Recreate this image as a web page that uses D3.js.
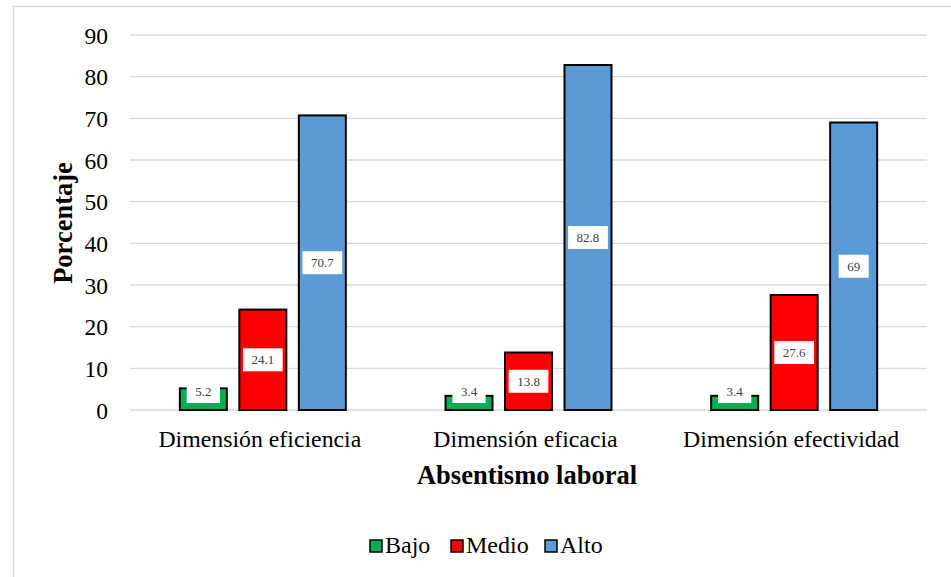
<!DOCTYPE html>
<html>
<head>
<meta charset="utf-8">
<script src="https://cdn.jsdelivr.net/npm/d3@7"></script>
<style>
  html, body { margin: 0; padding: 0; background: #fff; }
  svg { display: block; }
</style>
</head>
<body>
<svg id="chart" width="951" height="577"></svg>
<script>
const categories = ["Dimensión eficiencia", "Dimensión eficacia", "Dimensión efectividad"];
const seriesNames = ["Bajo", "Medio", "Alto"];
const bajo = [5.2, 3.4, 3.4];
const medio = [24.1, 13.8, 27.6];
const alto = [70.7, 82.8, 69];
const yTicks = [0, 10, 20, 30, 40, 50, 60, 70, 80, 90];
const colors = ["#00b050", "#ff0000", "#5b9bd5"];
const yTitle = "Porcentaje";
const xTitle = "Absentismo laboral";

const seriesValues = [bajo, medio, alto];
const FONT = "Liberation Serif";

const svg = d3.select("#chart");
const W = 951, H = 577;
const plotLeft = 130, plotRight = 927, plotTop = 35, plotBottom = 410;

// outer chart border
svg.append("rect").attr("x", 13.5).attr("y", 6.5).attr("width", W + 20).attr("height", H + 20)
  .attr("fill", "#fff").attr("stroke", "#d9d9d9").attr("stroke-width", 1.5);

const y = d3.scaleLinear().domain([0, 90]).range([plotBottom, plotTop]);
const x0 = d3.scaleBand().domain(categories).range([plotLeft, plotRight]).padding(0);
const x1 = d3.scaleBand().domain(seriesNames).range([-83, 83]).paddingInner(0.21).paddingOuter(0);

// gridlines
svg.append("g").selectAll("line").data(yTicks).join("line")
  .attr("x1", plotLeft).attr("x2", plotRight)
  .attr("y1", d => y(d)).attr("y2", d => y(d))
  .attr("stroke", "#d9d9d9").attr("stroke-width", 1.3);

// y axis labels
const yAxis = d3.axisLeft(y).tickValues(yTicks).tickSize(0).tickPadding(0);
const yg = svg.append("g").attr("transform", `translate(108,0)`).call(yAxis);
yg.select(".domain").remove();
yg.selectAll("text").style("font-family", FONT).style("font-size", "23.5px").attr("fill", "#000")
  .attr("dy", "0.34em");

// x axis labels
const xAxis = d3.axisBottom(x0).tickSize(0).tickPadding(0);
const xg = svg.append("g").attr("transform", `translate(-3,${plotBottom})`).call(xAxis);
xg.select(".domain").remove();
xg.selectAll("text").style("font-family", FONT).style("font-size", "23.8px").attr("fill", "#000")
  .attr("y", 36.5).attr("dy", 0);

// bars
const data = [];
categories.forEach((c, i) => {
  seriesNames.forEach((s, j) => {
    data.push({ cat: c, ser: s, val: seriesValues[j][i], color: colors[j] });
  });
});

const barG = svg.append("g");
const bx = d => x0(d.cat) + x0.bandwidth() / 2 + x1(d.ser);
barG.selectAll("rect").data(data).join("rect")
  .attr("x", bx).attr("width", x1.bandwidth())
  .attr("y", d => y(d.val)).attr("height", d => y(0) - y(d.val))
  .attr("fill", d => d.color).attr("stroke", "#000").attr("stroke-width", 2);

// data labels
const lblG = svg.append("g");
data.forEach(d => {
  const cx = bx(d) + x1.bandwidth() / 2;
  const mid = (y(d.val) + y(0)) / 2;
  const cy = Math.min(mid, y(0) - 18.5);
  const g = lblG.append("g");
  const t = g.append("text").attr("x", cx).attr("y", cy).attr("text-anchor", "middle")
    .attr("dy", "0.35em").style("font-family", FONT).style("font-size", "13px")
    .attr("fill", "#404040").text(String(d.val));
  const w = t.node().getComputedTextLength() + 17;
  g.insert("rect", "text").attr("x", cx - w / 2).attr("y", cy - 11.5).attr("width", w).attr("height", 23)
    .attr("fill", "#fff");
});

// axis titles
svg.append("text").attr("x", 527).attr("y", 484).attr("text-anchor", "middle")
  .style("font-family", FONT).style("font-size", "26.5px").style("font-weight", "bold")
  .attr("fill", "#000").text(xTitle);
svg.append("text").attr("transform", "translate(72,223) rotate(-90)").attr("text-anchor", "middle")
  .style("font-family", FONT).style("font-size", "26.5px").style("font-weight", "bold")
  .attr("fill", "#000").text(yTitle);

// legend
const legend = svg.append("g");
const legItems = [
  { name: seriesNames[0], color: colors[0], x: 370 },
  { name: seriesNames[1], color: colors[1], x: 451 },
  { name: seriesNames[2], color: colors[2], x: 545 }
];
legItems.forEach(it => {
  legend.append("rect").attr("x", it.x).attr("y", 540).attr("width", 12).attr("height", 12)
    .attr("fill", it.color).attr("stroke", "#000").attr("stroke-width", 1.5);
  legend.append("text").attr("x", it.x + 15).attr("y", 553)
    .style("font-family", FONT).style("font-size", "24px")
    .attr("fill", "#000").text(it.name);
});
</script>
</body>
</html>
